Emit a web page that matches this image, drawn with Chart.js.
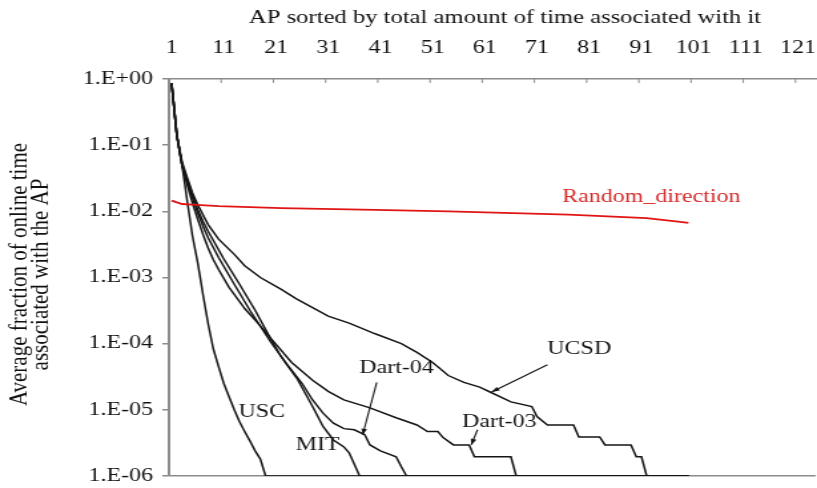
<!DOCTYPE html>
<html>
<head>
<meta charset="utf-8">
<script src="https://cdn.jsdelivr.net/npm/chart.js@4.4.1/dist/chart.umd.min.js"></script>
<style>
  html, body { margin: 0; padding: 0; background: #fff; overflow: hidden; }
  /* the figure is drawn narrow and widened, like the original export */
  #wrap { width: 614px; height: 488px; transform: scaleX(1.3306); transform-origin: 0 0; }
</style>
</head>
<body>
<div id="wrap"><canvas id="chart"></canvas></div>
<script>
const STRETCH = 1.3306;

// AP rank on x, average fraction of online time on y (log)
const xTitle = "AP sorted by total amount of time associated with it";
const xTicks = [1, 11, 21, 31, 41, 51, 61, 71, 81, 91, 101, 111, 121];
const yTicks = [1, 1e-1, 1e-2, 1e-3, 1e-4, 1e-5, 1e-6];
const yTickLabels = ["1.E+00", "1.E-01", "1.E-02", "1.E-03", "1.E-04", "1.E-05", "1.E-06"];
const yTitle = ["Average fraction of online time", "associated with the AP"];

const uscX = [1, 2, 3, 4, 5, 6, 7, 8, 9, 10, 11, 12, 13, 14, 15, 16, 17, 18, 19, 100];
const uscY = [8.7e-1, 1.41e-1, 5.0e-2, 1.41e-2, 4.2e-3, 1.66e-3, 5.6e-4, 2.0e-4, 8.3e-5, 4.5e-5,
  2.5e-5, 1.58e-5, 1.0e-5, 6.6e-6, 4.7e-6, 3.4e-6, 2.4e-6, 1.8e-6, 1e-6, 1e-6];

const mitX = [1, 2, 3, 4, 5, 6, 7, 8, 11, 14, 17, 20, 22, 25, 28, 30, 32, 34, 35, 36, 37, 100];
const mitY = [8.7e-1, 1.41e-1, 5.0e-2, 3.0e-2, 1.74e-2, 1.07e-2, 7.1e-3, 5.0e-3, 1.9e-3, 7.9e-4,
  3.2e-4, 1.17e-4, 6.3e-5, 3.0e-5, 1.12e-5, 5.6e-6, 3.5e-6, 2.75e-6, 2.24e-6, 1.51e-6, 1e-6, 1e-6];

const dart04X = [1, 2, 3, 4, 5, 6, 7, 8, 10, 13, 16, 20, 23, 26, 28, 30, 32, 34, 36, 38, 39, 41, 44, 45, 46, 100];
const dart04Y = [8.7e-1, 1.41e-1, 5.0e-2, 2.8e-2, 1.58e-2, 9.5e-3, 6.0e-3, 4.0e-3, 2.0e-3, 7.9e-4,
  3.2e-4, 1.05e-4, 5.0e-5, 2.5e-5, 1.41e-5, 8.9e-6, 6.3e-6, 5.2e-6, 5.0e-6, 4.2e-6,
  2.95e-6, 2.4e-6, 1.95e-6, 1.38e-6, 1e-6, 1e-6];

const dart03X = [1, 2, 3, 4, 5, 6, 7, 8, 9, 10, 12, 15, 18, 20, 24, 28, 31, 34, 39, 44,
  48, 50, 52, 53, 55, 58, 59, 66, 67, 100];
const dart03Y = [8.7e-1, 1.41e-1, 5.0e-2, 2.5e-2, 1.32e-2, 7.6e-3, 4.5e-3, 2.8e-3, 1.86e-3, 1.32e-3,
  7.1e-4, 3.4e-4, 1.86e-4, 1.2e-4, 5.2e-5, 2.8e-5, 1.9e-5, 1.41e-5, 1.07e-5, 7.6e-6,
  5.9e-6, 4.7e-6, 4.7e-6, 3.8e-6, 2.95e-6, 2.95e-6, 1.95e-6, 1.95e-6, 1e-6, 1e-6];

const ucsdX = [1, 2, 3, 4, 5, 6, 8, 10, 13, 15, 18, 22, 25, 28, 31, 35, 40, 45, 48, 51,
  54, 57, 60, 62, 66, 70, 71, 73, 78, 79, 83, 84, 89, 90, 91, 92, 100];
const ucsdY = [8.7e-1, 1.41e-1, 5.6e-2, 3.2e-2, 1.9e-2, 1.26e-2, 6.3e-3, 3.8e-3, 2.24e-3, 1.51e-3,
  1.0e-3, 6.6e-4, 4.7e-4, 3.5e-4, 2.6e-4, 2.04e-4, 1.41e-4, 1.0e-4, 7.4e-5, 5.2e-5,
  3.3e-5, 2.6e-5, 2.2e-5, 1.86e-5, 1.32e-5, 1.12e-5, 7.9e-6, 5.9e-6, 5.9e-6, 3.9e-6,
  3.9e-6, 2.95e-6, 2.95e-6, 1.95e-6, 1.95e-6, 1e-6, 1e-6];

const randomX = [1, 3, 5, 10, 22, 40, 54, 77, 92, 98, 100];
const randomY = [1.45e-2, 1.29e-2, 1.26e-2, 1.2e-2, 1.12e-2, 1.05e-2, 1.0e-2, 8.9e-3, 7.9e-3, 7.0e-3, 6.7e-3];

const serif = "'Liberation Serif', 'Times New Roman', serif";
const grey = "#8c8c8c";
const ink = "#151515";
const red = "#e01414";

// text labels and pointer arrows, placed in data coordinates
const labels = [
  { text: "Random_direction", x: 92.9, y: 1.65e-2, color: "#d42a2a" },
  { text: "UCSD", x: 79.1, y: 8.1e-5 },
  { text: "Dart-04", x: 44.1, y: 4.3e-5 },
  { text: "Dart-03", x: 63.8, y: 6.6e-6 },
  { text: "USC", x: 18.3, y: 9.3e-6 },
  { text: "MIT", x: 29.0, y: 2.9e-6 }
];
const arrows = [
  { from: [73.0, 4.8e-5], to: [62.3, 1.86e-5] },
  { from: [40.3, 2.6e-5], to: [37.6, 4.2e-6] },
  { from: [59.6, 5.0e-6], to: [58.4, 2.95e-6] }
];

function pts(xs, ys) {
  return xs.map((x, i) => ({ x, y: ys[i] }));
}

function series(label, xs, ys, color, width) {
  return { label, data: pts(xs, ys), borderColor: color, borderWidth: width,
    pointRadius: 0, tension: 0, fill: false };
}

const extras = {
  id: "extras",
  afterDatasetsDraw(chart) {
    const { ctx, chartArea, scales: { x, y } } = chart;
    ctx.save();

    // short inward marks on the top axis, between categories
    ctx.strokeStyle = grey;
    ctx.lineWidth = 1;
    xTicks.slice(1).forEach(v => {
      const px = x.getPixelForValue(v - 0.5);
      ctx.beginPath();
      ctx.moveTo(px, chartArea.top);
      ctx.lineTo(px, chartArea.top + 4);
      ctx.stroke();
    });

    ctx.strokeStyle = ink;
    ctx.fillStyle = ink;
    ctx.lineWidth = 1.1;
    arrows.forEach(a => {
      const x0 = x.getPixelForValue(a.from[0]), y0 = y.getPixelForValue(a.from[1]);
      const x1 = x.getPixelForValue(a.to[0]), y1 = y.getPixelForValue(a.to[1]);
      const ang = Math.atan2(y1 - y0, x1 - x0);
      ctx.beginPath();
      ctx.moveTo(x0, y0);
      ctx.lineTo(x1, y1);
      ctx.stroke();
      ctx.beginPath();
      ctx.moveTo(x1, y1);
      ctx.lineTo(x1 - 6 * Math.cos(ang) + 2.2 * Math.sin(ang), y1 - 6 * Math.sin(ang) - 2.2 * Math.cos(ang));
      ctx.lineTo(x1 - 6 * Math.cos(ang) - 2.2 * Math.sin(ang), y1 - 6 * Math.sin(ang) + 2.2 * Math.cos(ang));
      ctx.closePath();
      ctx.fill();
    });

    ctx.font = `18px ${serif}`;
    ctx.textAlign = "center";
    ctx.textBaseline = "middle";
    labels.forEach(l => {
      ctx.fillStyle = l.color || ink;
      ctx.fillText(l.text, x.getPixelForValue(l.x), y.getPixelForValue(l.y));
    });

    // axis title above the tick numbers
    ctx.fillStyle = "#111";
    ctx.font = `18.5px ${serif}`;
    ctx.fillText(xTitle, 505 / STRETCH, 18);

    // rotated y title, only lightly widened
    ctx.save();
    ctx.translate(31 / STRETCH, (chartArea.top + chartArea.bottom) / 2 - 3);
    ctx.scale(1 / 1.15, 1);
    ctx.rotate(-Math.PI / 2);
    ctx.font = `21px ${serif}`;
    ctx.fillText(yTitle[0], 0, -9.5);
    ctx.fillText(yTitle[1], 0, 9.5);
    ctx.restore();

    ctx.restore();
  }
};

new Chart(document.getElementById("chart"), {
  type: "line",
  data: {
    datasets: [
      series("Random_direction", randomX, randomY, red, 1.8),
      series("USC", uscX, uscY, ink, 1.5),
      series("MIT", mitX, mitY, ink, 1.5),
      series("Dart-04", dart04X, dart04Y, ink, 1.5),
      series("Dart-03", dart03X, dart03Y, ink, 1.5),
      series("UCSD", ucsdX, ucsdY, ink, 1.5)
    ]
  },
  options: {
    responsive: true,
    maintainAspectRatio: false,
    animation: false,
    layout: { padding: { left: 0, right: 0, top: 0, bottom: 12 } },
    plugins: { legend: { display: false }, tooltip: { enabled: false } },
    scales: {
      x: {
        type: "linear",
        position: "top",
        min: 0.5,
        max: 124.4,
        afterFit: s => { s.height = 79; s.paddingLeft = 0; s.paddingRight = 0; },
        afterBuildTicks: s => { s.ticks = xTicks.map(value => ({ value })); },
        ticks: { font: { family: serif, size: 18 }, color: "#111", padding: 20, autoSkip: false, maxRotation: 0 },
        grid: { drawOnChartArea: false, drawTicks: false },
        border: { display: true, color: grey, width: 1.5 }
      },
      y: {
        type: "logarithmic",
        min: 1e-6,
        max: 1,
        afterFit: s => { s.width = 127; s.paddingTop = 0; s.paddingBottom = 0; },
        afterBuildTicks: s => { s.ticks = yTicks.map(value => ({ value })); },
        ticks: {
          font: { family: serif, size: 18 },
          color: "#111",
          padding: 7,
          autoSkip: false,
          callback: v => yTickLabels[yTicks.indexOf(v)]
        },
        grid: {
          tickLength: 5,
          tickColor: grey,
          lineWidth: 1.5,
          color: c => (c.tick && c.tick.value === 1e-6 ? grey : "rgba(0,0,0,0)")
        },
        border: { display: true, color: grey, width: 2 }
      }
    }
  },
  plugins: [extras]
});
</script>
</body>
</html>
